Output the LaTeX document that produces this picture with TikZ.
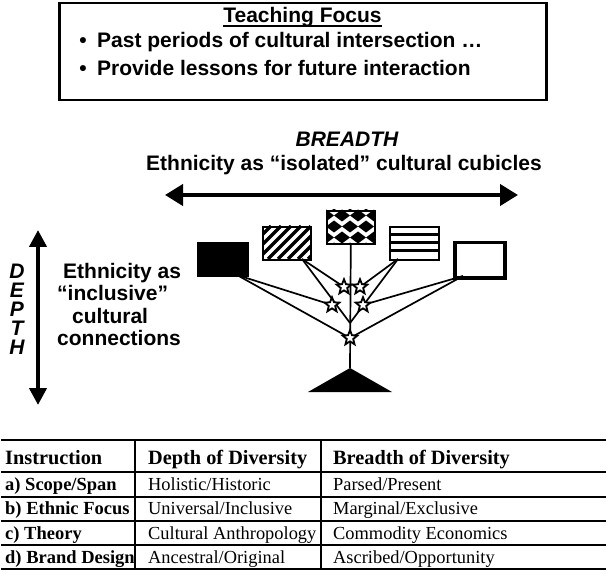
\documentclass[tikz,border=0pt]{standalone}
\usepackage{fontspec}
\setmainfont{Liberation Serif}
\newfontfamily\arialf{Liberation Sans}
\usetikzlibrary{shapes.geometric,arrows.meta}
\pgfdeclarelayer{bg}
\pgfsetlayers{bg,main}
\tikzset{
 sans/.style={font=\arialf\bfseries\fontsize{21}{21}\selectfont, inner sep=0pt},
 sansit/.style={font=\arialf\bfseries\itshape\fontsize{21}{21}\selectfont, inner sep=0pt},
 cube/.style={draw, line width=1.6pt, inner sep=0pt, anchor=north west},
 branch/.style={line width=1.7pt},
 bigarrow/.style={line width=4pt, {Triangle[length=18pt,width=21pt]}-{Triangle[length=18pt,width=21pt]}},
 vertarrow/.style={line width=4pt, {Triangle[length=17pt,width=17pt]}-{Triangle[length=17pt,width=17pt]}},
 starnode/.style={star, star points=5, star point ratio=2.3, minimum size=15.5pt, inner sep=0pt, draw, fill=white, line width=1.8pt},
 tabrule/.style={line width=2pt},
 thead/.style={font=\bfseries\fontsize{20.3}{20.3}\selectfont, inner sep=0pt, anchor=base west},
 tbold/.style={font=\bfseries\fontsize{18.5}{18.5}\selectfont, inner sep=0pt, anchor=base west},
 tnorm/.style={font=\fontsize{18.4}{18.4}\selectfont, inner sep=0pt, anchor=base west},
}
\begin{document}
\begin{tikzpicture}[x=1pt,y=-1pt]
\useasboundingbox (0,0) rectangle (610,577);
% teaching focus box
\node[draw, line width=2.5pt, minimum width=487pt, minimum height=97pt, inner sep=0pt, anchor=north west] (focusbox) at (58,2) {};
\node[sans, anchor=base] (tf) at (302.5,23) {Teaching Focus};
\draw[line width=1.6pt] ([yshift=-3pt]tf.base west) -- ([yshift=-3pt]tf.base east);
\node[sans, anchor=base] (dot1) at (83,48) {•};
\node[sans, anchor=base west] (b1) at (97,48) {Past periods of cultural intersection …};
\node[sans, anchor=base] (dot2) at (83,76) {•};
\node[sans, anchor=base west] (b2) at (97,76) {Provide lessons for future interaction};
% breadth
\node[sansit, anchor=base] (br) at (347,147) {BREADTH};
\node[sans, anchor=base] (iso) at (344,171) {Ethnicity as “isolated” cultural cubicles};
\coordinate (hl) at (165,195);
\coordinate (hr) at (518,195);
\draw[bigarrow] (hl) -- (hr);
% depth
\coordinate (vt) at (38,230);
\coordinate (vb) at (38,405);
\draw[vertarrow] (vt) -- (vb);
\node[sansit, anchor=base] (dD) at (17,278) {D};
\node[sansit, anchor=base] (dE) at (17,297) {E};
\node[sansit, anchor=base] (dP) at (17,316) {P};
\node[sansit, anchor=base] (dT) at (17,335) {T};
\node[sansit, anchor=base] (dH) at (17,354) {H};
\node[sans, anchor=base west] (inc1) at (63,278) {Ethnicity as};
\node[sans, anchor=base west] (inc2) at (57,300.5) {“inclusive”};
\node[sans, anchor=base west] (inc3) at (72,323) {cultural};
\node[sans, anchor=base west] (inc4) at (57,345.5) {connections};
% cubicles
\node[cube, fill=black, minimum width=50pt, minimum height=33pt] (blk) at (197,242) {};
\begin{scope}
 \clip (262,226) rectangle (310,259);
 \foreach \k in {0,...,9} \draw[line width=3.5pt] (228+\k*10,259) -- (261+\k*10,226);
\end{scope}
\node[cube, minimum width=48pt, minimum height=33pt] (dia) at (262,226) {};
\begin{scope}
 \clip (326,210) rectangle (374,243);
 \foreach \j in {-1,0,1,2,3}{
  \foreach \i in {-1,0,1,2,3,4}{
   \pgfmathsetmacro{\cx}{326+\i*16+8*mod(\j+2,2)}
   \pgfmathsetmacro{\cy}{215.5+\j*11}
   \fill (\cx-8,\cy) -- (\cx,\cy-6) -- (\cx+8,\cy) -- (\cx,\cy+6) -- cycle;
  }
 }
\end{scope}
\node[cube, minimum width=48pt, minimum height=33pt] (chk) at (326,210) {};
\foreach \y in {234.25,242.5,250.75} \draw[line width=3pt] (389,\y) -- (438,\y);
\node[cube, minimum width=49pt, minimum height=33pt] (hor) at (389,226) {};
\node[cube, line width=3.5pt, minimum width=50pt, minimum height=35pt] (wht) at (453,241) {};
% tree
\coordinate (bA) at (237,275);
\coordinate (dA) at (302,259);
\coordinate (hA) at (398,259);
\coordinate (wA) at (463,276);
\coordinate (jn) at (350,323);
\coordinate (apex) at (350,368);
\coordinate (tl) at (308,392);
\coordinate (tr) at (392,392);
\node[starnode] (s1) at (344,287) {};
\node[starnode] (s2) at (360,287) {};
\node[starnode] (s3) at (332,305) {};
\node[starnode] (s4) at (363,305) {};
\node[starnode] (s5) at (350,338) {};
\begin{pgfonlayer}{bg}
 \draw[branch] (chk.south) -- (apex);
 \draw[branch] (bA) -- (s3.center);
 \draw[branch] (bA) -- (s5.center);
 \draw[branch] (dA) -- (s1.center);
 \draw[branch] (dA) -- (jn);
 \draw[branch] (hA) -- (s2.center);
 \draw[branch] (hA) -- (jn);
 \draw[branch] (wA) -- (s4.center);
 \draw[branch] (wA) -- (s5.center);
\end{pgfonlayer}
\fill (apex) -- (tr) -- (tl) -- cycle;
% table
\foreach \y in {440,472,496.5,521,545,569} \draw[tabrule] (1,\y) -- (606,\y);
\draw[tabrule] (135,440) -- (135,569);
\draw[tabrule] (321,440) -- (321,569);
\node[thead] (h1) at (5,464) {Instruction};
\node[thead] (h2) at (148,464) {Depth of Diversity};
\node[thead] (h3) at (333,464) {Breadth of Diversity};
\node[tbold] (r1a) at (5,490) {a) Scope/Span};
\node[tnorm] (r1b) at (148,490) {Holistic/Historic};
\node[tnorm] (r1c) at (333,490) {Parsed/Present};
\node[tbold] (r2a) at (5,514.5) {b) Ethnic Focus};
\node[tnorm] (r2b) at (148,514.5) {Universal/Inclusive};
\node[tnorm] (r2c) at (333,514.5) {Marginal/Exclusive};
\node[tbold] (r3a) at (5,539) {c) Theory};
\node[tnorm] (r3b) at (148,539) {Cultural Anthropology};
\node[tnorm] (r3c) at (333,539) {Commodity Economics};
\node[tbold] (r4a) at (5,563) {d) Brand Design};
\node[tnorm] (r4b) at (148,563) {Ancestral/Original};
\node[tnorm] (r4c) at (333,563) {Ascribed/Opportunity};
\end{tikzpicture}
\end{document}
